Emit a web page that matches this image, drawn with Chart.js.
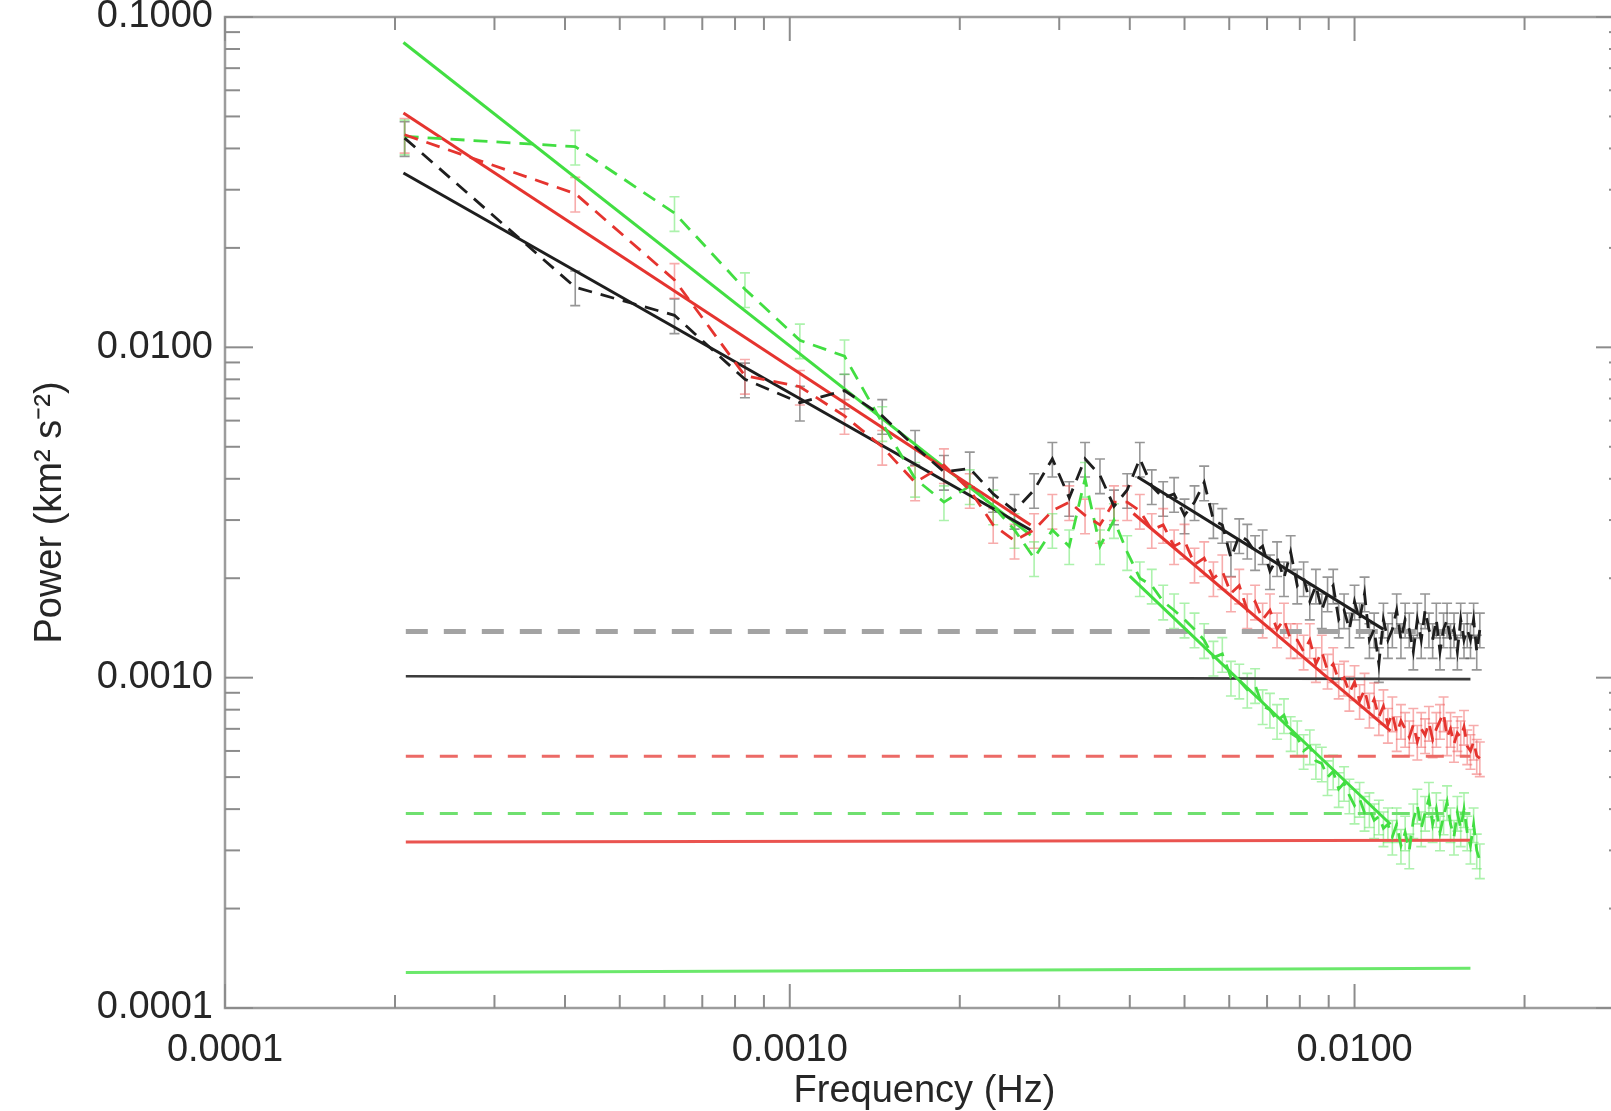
<!DOCTYPE html>
<html>
<head>
<meta charset="utf-8">
<title>Power spectra</title>
<script src="https://cdn.jsdelivr.net/npm/chart.js@4/dist/chart.umd.min.js"></script>
<style>
  html, body { margin: 0; padding: 0; background: #fff; overflow: hidden; }
  #wrap { width: 1630px; height: 1111px; }
</style>
</head>
<body>
<div id="wrap"><canvas id="psd" width="1630" height="1111"></canvas></div>
<script>
// === Data ===
const freq = [
  0.000208, 0.000417, 0.000625, 0.000833, 0.001042, 0.00125, 0.001458, 0.001667, 0.001875, 0.002083,
  0.002292, 0.0025, 0.002708, 0.002917, 0.003125, 0.003333, 0.003542, 0.00375, 0.003958, 0.004167,
  0.004375, 0.004583, 0.004792, 0.005, 0.005208, 0.005417, 0.005625, 0.005833, 0.006042, 0.00625,
  0.006458, 0.006667, 0.006875, 0.007083, 0.007292, 0.0075, 0.007708, 0.007917, 0.008125, 0.008333,
  0.008542, 0.00875, 0.008958, 0.009167, 0.009375, 0.009583, 0.009792, 0.01, 0.010208, 0.010417,
  0.010625, 0.010833, 0.011042, 0.01125, 0.011458, 0.011667, 0.011875, 0.012083, 0.012292, 0.0125,
  0.012708, 0.012917, 0.013125, 0.013333, 0.013542, 0.01375, 0.013958, 0.014167, 0.014375, 0.014583,
  0.014792, 0.015, 0.015208, 0.015417, 0.015625, 0.015833, 0.016042, 0.01625, 0.016458, 0.016667
];

const powerBlack = [
  0.0430, 0.0152, 0.0125, 0.0080, 0.0068, 0.0074, 0.0062, 0.0050, 0.0042, 0.0043,
  0.0036, 0.0032, 0.0037, 0.0046, 0.0035, 0.0046, 0.0041, 0.0033, 0.0037, 0.0046,
  0.0038, 0.0035, 0.0036, 0.0031, 0.0034, 0.0039, 0.0030, 0.0029, 0.0023, 0.0027,
  0.0026, 0.0024, 0.0025, 0.0021, 0.0023, 0.0020, 0.0024, 0.0019, 0.0020, 0.0017,
  0.0019, 0.0016, 0.0018, 0.0019, 0.0015, 0.0016, 0.0014, 0.0017, 0.0015, 0.0018,
  0.0013, 0.0014, 0.0011, 0.0015, 0.0013, 0.0014, 0.0016, 0.0013, 0.0015, 0.0014,
  0.0012, 0.0015, 0.0013, 0.0016, 0.0014, 0.0013, 0.0015, 0.0012, 0.0014, 0.0015,
  0.0013, 0.0014, 0.0012, 0.0015, 0.0013, 0.0014, 0.0013, 0.0015, 0.0012, 0.0014
];

const powerRed = [
  0.0440, 0.0292, 0.0160, 0.0082, 0.0076, 0.0062, 0.0050, 0.0039, 0.0044, 0.0037,
  0.0029, 0.0026, 0.0028, 0.0032, 0.0034, 0.0031, 0.0029, 0.0034, 0.0034, 0.0032,
  0.0028, 0.0029, 0.0025, 0.0026, 0.0022, 0.0023, 0.0020, 0.0021, 0.0018, 0.0019,
  0.0016, 0.0017, 0.0015, 0.0016, 0.0014, 0.0015, 0.0013, 0.0013, 0.0012, 0.0013,
  0.0011, 0.0012, 0.00105, 0.0011, 0.00098, 0.0010, 0.00090, 0.00097, 0.00085, 0.00092,
  0.00080, 0.00086, 0.00076, 0.00082, 0.00072, 0.00078, 0.00068, 0.00074, 0.00070, 0.00066,
  0.00072, 0.00064, 0.00070, 0.00067, 0.00073, 0.00065, 0.00070, 0.00074, 0.00078, 0.00066,
  0.00070, 0.00063, 0.00068, 0.00066, 0.00071, 0.00062, 0.00060, 0.00064, 0.00058, 0.00057
];

const powerGreen = [
  0.0435, 0.0405, 0.0255, 0.0150, 0.0105, 0.0094, 0.0059, 0.0040, 0.0034, 0.0038,
  0.0033, 0.0028, 0.0023, 0.0028, 0.0025, 0.0040, 0.0025, 0.0030, 0.0024, 0.0020,
  0.0019, 0.0017, 0.0016, 0.0015, 0.0014, 0.0013, 0.00115, 0.00118, 0.0010, 0.00098,
  0.00092, 0.00095, 0.00082, 0.00080, 0.00074, 0.00077, 0.00068, 0.00066, 0.00060, 0.00062,
  0.00056, 0.00055, 0.00050, 0.00052, 0.00046, 0.00048, 0.00044, 0.00041, 0.00043, 0.00039,
  0.00040, 0.00037, 0.00038, 0.00035, 0.00036, 0.00033, 0.00036, 0.00031, 0.00034, 0.00030,
  0.00037, 0.00041, 0.00035, 0.00039, 0.00043, 0.00036, 0.00040, 0.00034, 0.00038, 0.00042,
  0.00036, 0.00033, 0.00039, 0.00035, 0.00040, 0.00034, 0.00031, 0.00036, 0.00030, 0.00028
];

// broken power-law fits: [freq, power] end points
const fitBlackLow = [[0.000207, 0.0337], [0.00267, 0.0028]];
const fitBlackHigh = [[0.00413, 0.00405], [0.01125, 0.0014]];
const fitRedLow = [[0.000207, 0.0512], [0.00267, 0.0029]];
const fitRedHigh = [[0.00406, 0.00314], [0.01158, 0.00069]];
const fitGreenLow = [[0.000207, 0.0837], [0.00267, 0.0027]];
const fitGreenHigh = [[0.0040, 0.00203], [0.01158, 0.00036]];

// noise / confidence levels
const levelRange = [0.000209, 0.01604];
const levelGreyDash = [0.00138, 0.00138];
const levelBlack = [0.00101, 0.00099];
const levelRedDash = [0.000578, 0.000578];
const levelGreenDash = [0.000388, 0.000388];
const levelRed = [0.000318, 0.000322];
const levelGreen = [0.000128, 0.000132];

const errFrac = 0.12;

const xTicks = [0.0001, 0.001, 0.01];
const yTicks = [0.0001, 0.001, 0.01, 0.1];

// === helpers ===
const pts = (xs, ys) => xs.map((x, i) => ({ x, y: ys[i] }));
const seg = (pairs) => pairs.map((p) => ({ x: p[0], y: p[1] }));

function lineSet(data, color, width, dash) {
  return {
    data,
    borderColor: color,
    borderWidth: width,
    borderDash: dash || [],
    pointRadius: 0,
    fill: false,
    tension: 0,
  };
}

const BLACK = "#1e1e1e";
const RED = "#e5342f";
const GREEN = "#42de42";

// === plugins ===
const errorBars = {
  id: "errorBars",
  beforeDatasetsDraw(chart) {
    const { ctx, scales: { x, y } } = chart;
    ctx.save();
    chart.data.datasets.forEach((ds) => {
      if (!ds.errColor) return;
      ctx.strokeStyle = ds.errColor;
      ctx.lineWidth = 1.6;
      ds.data.forEach((p) => {
        const px = x.getPixelForValue(p.x);
        const y1 = y.getPixelForValue(p.y * (1 + errFrac));
        const y0 = y.getPixelForValue(p.y * (1 - errFrac));
        ctx.beginPath();
        ctx.moveTo(px, y0); ctx.lineTo(px, y1);
        ctx.moveTo(px - 5, y0); ctx.lineTo(px + 5, y0);
        ctx.moveTo(px - 5, y1); ctx.lineTo(px + 5, y1);
        ctx.stroke();
      });
    });
    ctx.restore();
  },
};

const frame = {
  id: "frame",
  afterDraw(chart) {
    const { ctx, chartArea: a, scales: { x, y } } = chart;
    ctx.save();
    ctx.strokeStyle = "#9c9c9c";
    ctx.lineWidth = 2.5;
    ctx.strokeRect(a.left, a.top, a.right - a.left, a.bottom - a.top);
    ctx.lineWidth = 2;
    ctx.strokeStyle = "#8c8c8c";
    const tick = (x0, y0, x1, y1) => {
      ctx.beginPath(); ctx.moveTo(x0, y0); ctx.lineTo(x1, y1); ctx.stroke();
    };
    for (let e = -5; e <= -1; e++) {
      for (let m = 1; m <= 9; m++) {
        const v = m * Math.pow(10, e);
        if (v >= x.min * 0.999 && v <= x.max * 1.001) {
          const px = x.getPixelForValue(v);
          const len = m === 1 ? 24 : 13;
          tick(px, a.bottom, px, a.bottom - len);
          tick(px, a.top, px, a.top + len);
        }
        if (v >= y.min * 0.999 && v <= y.max * 1.001) {
          const py = y.getPixelForValue(v);
          const len = m === 1 ? 28 : 15;
          tick(a.left, py, a.left + len, py);
          tick(a.right, py, a.right - len, py);
        }
      }
    }
    ctx.restore();
  },
};

// === chart ===
const tickFont = { family: "'Liberation Sans', Arial, sans-serif", size: 38 };

new Chart(document.getElementById("psd").getContext("2d"), {
  type: "line",
  data: {
    datasets: [
      Object.assign(lineSet(pts(freq, powerBlack), BLACK, 2.8, [14, 9]), { errColor: "rgba(80,80,80,0.6)" }),
      Object.assign(lineSet(pts(freq, powerRed), RED, 2.8, [14, 9]), { errColor: "rgba(240,90,90,0.5)" }),
      Object.assign(lineSet(pts(freq, powerGreen), GREEN, 2.8, [14, 9]), { errColor: "rgba(90,230,90,0.5)" }),
      lineSet(seg(fitBlackLow), BLACK, 3),
      lineSet(seg(fitBlackHigh), BLACK, 3),
      lineSet(seg(fitRedLow), RED, 3),
      lineSet(seg(fitRedHigh), RED, 3),
      lineSet(seg(fitGreenLow), GREEN, 3),
      lineSet(seg(fitGreenHigh), GREEN, 3),
      lineSet(pts(levelRange, levelGreyDash), "#a3a3a3", 5, [22, 16]),
      lineSet(pts(levelRange, levelBlack), "#3a3a3a", 2.6),
      lineSet(pts(levelRange, levelRedDash), "#ec6a66", 3, [18, 16]),
      lineSet(pts(levelRange, levelGreenDash), "#6fe06f", 3, [18, 16]),
      lineSet(pts(levelRange, levelRed), "#ea5450", 3),
      lineSet(pts(levelRange, levelGreen), "#6be86b", 3),
    ],
  },
  options: {
    responsive: false,
    animation: false,
    devicePixelRatio: 1,
    layout: { padding: { top: 17, right: 6, left: 0, bottom: 0 } },
    plugins: { legend: { display: false }, tooltip: { enabled: false } },
    scales: {
      x: {
        type: "logarithmic",
        min: 0.0001,
        max: 0.03,
        grid: { display: false, drawTicks: false },
        border: { display: false },
        afterBuildTicks: (axis) => { axis.ticks = xTicks.map((v) => ({ value: v })); },
        afterFit: (axis) => {
          axis.height = 103;
          axis.paddingLeft = 0;
          axis.paddingRight = 0;
        },
        ticks: {
          autoSkip: false,
          maxRotation: 0,
          padding: 20,
          color: "#262626",
          font: tickFont,
          callback: (v) => Number(v).toFixed(4),
        },
        title: {
          display: true,
          text: "Frequency (Hz)",
          color: "#262626",
          font: Object.assign({}, tickFont, { lineHeight: 1 }),
          padding: { top: 0, bottom: 0 },
        },
      },
      y: {
        type: "logarithmic",
        min: 0.0001,
        max: 0.1,
        grid: { display: false, drawTicks: false },
        border: { display: false },
        afterBuildTicks: (axis) => { axis.ticks = yTicks.map((v) => ({ value: v })); },
        afterFit: (axis) => {
          axis.width = 225;
          axis.paddingTop = 0;
          axis.paddingBottom = 0;
        },
        ticks: {
          autoSkip: false,
          padding: 12,
          color: "#262626",
          font: tickFont,
          callback: (v) => Number(v).toFixed(4),
        },
        title: {
          display: true,
          text: "Power (km² s⁻²)",
          color: "#262626",
          font: tickFont,
          padding: { top: 28, bottom: 0 },
        },
      },
    },
  },
  plugins: [errorBars, frame],
});
</script>
</body>
</html>
